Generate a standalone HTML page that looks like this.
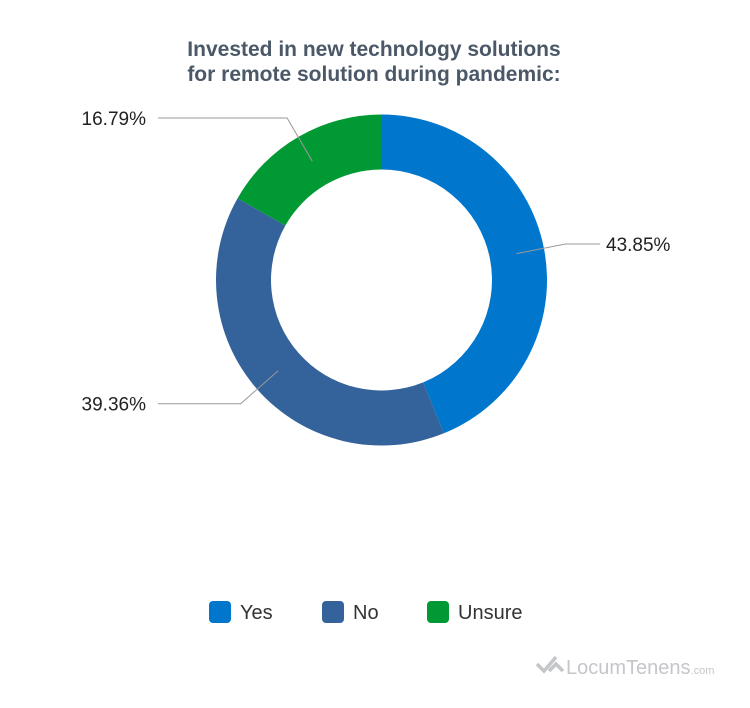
<!DOCTYPE html>
<html><head><meta charset="utf-8"><style>
body{margin:0;background:#fff;width:750px;height:703px;overflow:hidden;font-family:"Liberation Sans",sans-serif}
</style></head><body>
<svg width="750" height="703">
<text x="374" y="56" text-anchor="middle" font-size="21" font-weight="bold" fill="#4a5868">Invested in new technology solutions</text>
<text x="374" y="81" text-anchor="middle" font-size="21" font-weight="bold" fill="#4a5868">for remote solution during pandemic:</text>
<g id="slices"></g>
<g id="labels"></g>
<g>
<rect x="209" y="601" width="22" height="22" rx="4" fill="#0077cc"/>
<text x="240" y="619" font-size="20" fill="#333">Yes</text>
<rect x="322" y="601" width="22" height="22" rx="4" fill="#34629a"/>
<text x="353" y="619" font-size="20" fill="#333">No</text>
<rect x="427" y="601" width="22" height="22" rx="4" fill="#009933"/>
<text x="458" y="619" font-size="20" fill="#333">Unsure</text>
</g>
<g>
<path d="M537 664 l7 7 l12 -14 M549 671 l7 -7 l7 7" stroke="#c4c6ca" stroke-width="3.5" fill="none"/>
<text x="566" y="674" font-size="20" fill="#c4c6ca">LocumTenens<tspan font-size="11">.com</tspan></text>
</g>
</svg>
<script>
const categories=["Yes","No","Unsure"];
const values=[43.85,39.36,16.79];
const labels=["43.85%","39.36%","16.79%"];
const colors=["#0077cc","#34629a","#009933"];
const cx=381.5,cy=280,R=165.5,r=110.5;
const ns="http://www.w3.org/2000/svg";
const total=values.reduce((a,b)=>a+b,0);
function pt(a,rad){return [cx+rad*Math.sin(a),cy-rad*Math.cos(a)];}
let a0=0;
const sg=document.getElementById('slices'),lg=document.getElementById('labels');
values.forEach((v,i)=>{
  const a1=a0+v/total*2*Math.PI,large=(a1-a0)>Math.PI?1:0;
  const p1=pt(a0,R),p2=pt(a1,R),p3=pt(a1,r),p4=pt(a0,r);
  const p=document.createElementNS(ns,'path');
  p.setAttribute('d',`M${p1}A${R},${R} 0 ${large} 1 ${p2}L${p3}A${r},${r} 0 ${large} 0 ${p4}Z`);
  p.setAttribute('fill',colors[i]);
  
  
  sg.appendChild(p);
  const m=(a0+a1)/2,right=Math.sin(m)>=0;
  const q1=pt(m,R-28),q2=pt(m,R+22);
  const ex=right?600:158;
  const l=document.createElementNS(ns,'polyline');
  l.setAttribute('points',`${q1} ${q2} ${ex},${q2[1]}`);
  l.setAttribute('fill','none');l.setAttribute('stroke','#999');l.setAttribute('stroke-width','1');
  
  
  lg.appendChild(l);
  const t=document.createElementNS(ns,'text');
  t.setAttribute('x',right?ex+6:ex-12);t.setAttribute('y',q2[1]+7);
  t.setAttribute('text-anchor',right?'start':'end');
  t.setAttribute('font-size','19');t.setAttribute('fill','#222');
  t.textContent=labels[i];
  
  
  lg.appendChild(t);
  a0=a1;
});
</script>
</body></html>
